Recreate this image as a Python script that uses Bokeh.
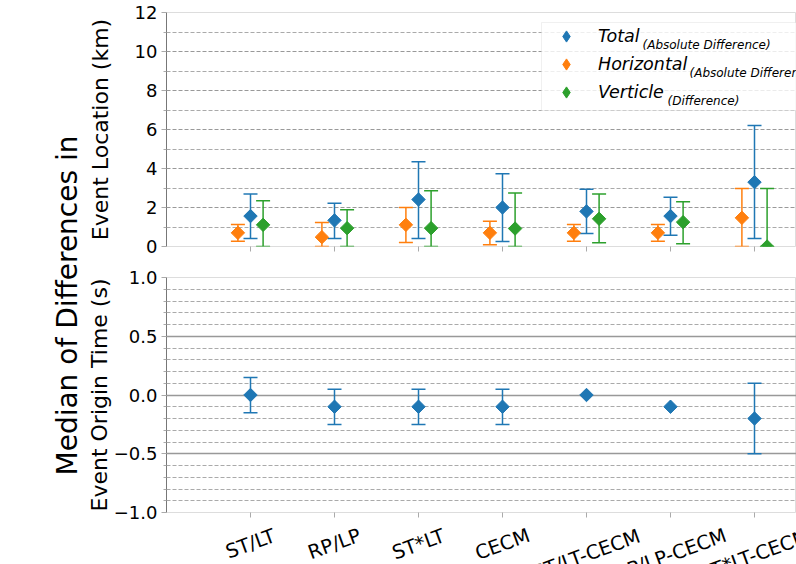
import numpy as np
from bokeh.plotting import figure
from bokeh.models import (Range1d, FixedTicker, ColumnDataSource, Label,
                          Legend, LegendItem, BoxAnnotation)
from bokeh.layouts import row, column
from bokeh.embed import file_html
from bokeh.resources import INLINE

# ---------------- data ----------------
categories = ["ST/LT", "RP/LP", "ST*LT", "CECM", "ST/LT-CECM", "RP/LP-CECM", "ST*LT-CECM"]

total_med = [1.56, 1.34, 2.41, 2.00, 1.80, 1.56, 3.30]
total_lo = [0.41, 0.41, 0.41, 0.26, 0.67, 0.58, 0.41]
total_hi = [2.69, 2.22, 4.35, 3.73, 2.93, 2.52, 6.20]

horiz_med = [0.70, 0.48, 1.11, 0.70, 0.70, 0.70, 1.47]
horiz_lo = [0.27, 0.00, 0.21, 0.09, 0.27, 0.27, 0.00]
horiz_hi = [1.13, 1.23, 2.00, 1.30, 1.13, 1.13, 2.98]

vert_med = [1.11, 0.94, 0.94, 0.92, 1.42, 1.25, 0.00]
vert_lo = [0.00, 0.00, 0.00, 0.00, 0.19, 0.14, 0.00]
vert_hi = [2.35, 1.88, 2.86, 2.74, 2.69, 2.30, 2.98]

time_med = [0.0, -0.1, -0.1, -0.1, 0.0, -0.1, -0.2]
time_lo = [-0.15, -0.25, -0.25, -0.25, 0.0, -0.1, -0.5]
time_hi = [0.15, 0.05, 0.05, 0.05, 0.0, -0.1, 0.1]

loc_ticks = [0, 2, 4, 6, 8, 10, 12]
loc_tick_labels = ["0", "2", "4", "6", "8", "10", "12"]
time_ticks = [-1.0, -0.5, 0.0, 0.5, 1.0]
time_tick_labels = ["\u22121.0", "\u22120.5", "0.0", "0.5", "1.0"]

legend_names = ["Total", "Horizontal", "Verticle"]
legend_subs = ["(Absolute Difference)", "(Absolute Difference)", "(Difference)"]

BLUE, ORANGE, GREEN = "#1f77b4", "#ff7f0e", "#2ca02c"
FONT = "DejaVu Sans"

xs = np.arange(len(categories))
LEFT_W = 83
MAIN_W = 796 - LEFT_W
BORDER_L = 83
FRAME_W = MAIN_W - BORDER_L
PX_PER_CAT = 84.0
x_end = -1 + FRAME_W / PX_PER_CAT
shared_x = Range1d(-1, x_end)

# approximate DejaVu Sans advance widths (em) for label-height estimation
CHAR_W = {"S": .635, "T": .611, "/": .337, "L": .557, "R": .695, "P": .603,
          "*": .5, "C": .698, "E": .632, "M": .863, "-": .361}


def base_fig(height, yr, mb_top, mb_bottom):
    p = figure(width=MAIN_W, height=height, x_range=shared_x, y_range=yr,
               output_backend="svg", toolbar_location=None,
               min_border_left=BORDER_L, min_border_right=0,
               min_border_top=mb_top, min_border_bottom=mb_bottom)
    p.outline_line_color = "#dddddd"
    p.outline_line_width = 1
    p.background_fill_color = "white"
    p.border_fill_color = "white"
    p.xgrid.visible = False
    # x axis: tick marks only (labels drawn rotated in the strip below)
    p.xaxis.ticker = FixedTicker(ticks=list(xs))
    p.xaxis.major_label_overrides = {int(i): "" for i in xs}
    p.xaxis.major_label_standoff = 0
    p.xaxis.axis_line_color = None
    p.xaxis.major_tick_line_color = "#aaaaaa"
    p.xaxis.major_tick_out = 5
    p.xaxis.major_tick_in = 0
    p.xaxis.minor_tick_line_color = None
    # y axis
    p.yaxis.axis_line_color = "#777777"
    p.yaxis.major_tick_line_color = "#aaaaaa"
    p.yaxis.minor_tick_line_color = "#aaaaaa"
    p.yaxis.major_tick_out = 5
    p.yaxis.major_tick_in = 0
    p.yaxis.minor_tick_out = 3
    p.yaxis.minor_tick_in = 0
    p.yaxis.major_label_text_font = FONT
    p.yaxis.major_label_text_font_size = "18px"
    p.yaxis.major_label_text_color = "black"
    p.yaxis.major_label_standoff = 4
    p.yaxis.axis_label_text_font = FONT
    p.yaxis.axis_label_text_font_size = "22px"
    p.yaxis.axis_label_text_font_style = "normal"
    p.yaxis.axis_label_text_color = "black"
    return p


def errorbars(p, x, med, lo, hi, color):
    src = ColumnDataSource(dict(x=x, med=med, lo=lo, hi=hi))
    keep = [i for i in range(len(x)) if hi[i] != lo[i]]
    cap = ColumnDataSource(dict(x=[x[i] for i in keep], lo=[lo[i] for i in keep],
                                hi=[hi[i] for i in keep]))
    p.segment(x0="x", y0="lo", x1="x", y1="hi", source=cap, line_color=color, line_width=1.5)
    p.scatter(x="x", y="lo", source=cap, marker="dash", size=14, line_color=color, line_width=1.5)
    p.scatter(x="x", y="hi", source=cap, marker="dash", size=14, line_color=color, line_width=1.5)
    # diamond drawn underneath (used for the legend swatch), covered by the rotated square
    leg = p.scatter(x="x", y="med", source=src, marker="diamond", size=12,
                    fill_color=color, line_color=color)
    p.scatter(x="x", y="med", source=src, marker="square", angle=np.pi / 4, size=9.5,
              fill_color=color, line_color=color)
    return leg


# ---------------- top: event location ----------------
top = base_fig(262, Range1d(0, 12), 12, 16)
top.yaxis.ticker = FixedTicker(ticks=loc_ticks, minor_ticks=list(range(1, 12, 2)))
top.yaxis.major_label_overrides = dict(zip(loc_ticks, loc_tick_labels))
top.yaxis.axis_label = "Event Location (km)"
top.yaxis.axis_label_standoff = 19
top.ygrid.grid_line_color = "#999999"
top.ygrid.grid_line_dash = "4 2"
top.ygrid.grid_line_width = 1
top.ygrid.minor_grid_line_color = "#aaaaaa"
top.ygrid.minor_grid_line_dash = "4 2"
top.ygrid.minor_grid_line_width = 1

# legend box (drawn above the grid, below the data)
top.add_layout(BoxAnnotation(left=375, right=720, bottom=136, top=224,
                             left_units="screen", right_units="screen",
                             bottom_units="screen", top_units="screen",
                             fill_color="white", fill_alpha=0.8,
                             line_color="#cccccc", line_width=1, level="underlay"))

off = 0.15
r_tot = errorbars(top, list(xs), total_med, total_lo, total_hi, BLUE)
r_hor = errorbars(top, list(xs - off), horiz_med, horiz_lo, horiz_hi, ORANGE)
r_ver = errorbars(top, list(xs + off), vert_med, vert_lo, vert_hi, GREEN)

legend = Legend(items=[LegendItem(label=legend_names[0], renderers=[r_tot]),
                       LegendItem(label=legend_names[1], renderers=[r_hor]),
                       LegendItem(label=legend_names[2], renderers=[r_ver])],
                location=(375, 140), orientation="vertical",
                label_text_font=FONT, label_text_font_style="italic",
                label_text_font_size="17.5px", label_text_color="black",
                glyph_width=50, glyph_height=28, label_height=28, label_width=100,
                label_standoff=7, padding=0, spacing=0, margin=0,
                border_line_color=None, background_fill_alpha=0)
top.add_layout(legend)

sub_x = [476, 523, 501]
sub_y = [202, 174, 146]
for sx, sy, txt in zip(sub_x, sub_y, legend_subs):
    top.add_layout(Label(x=sx, y=sy, x_units="screen", y_units="screen", text=txt,
                         text_font=FONT, text_font_style="italic", text_font_size="12px",
                         text_color="black", text_baseline="alphabetic", text_align="left",
                         level="overlay"))

# ---------------- bottom: origin time ----------------
BOT_BORDER_B = 11
bot = base_fig(15 + 235 + BOT_BORDER_B, Range1d(-1, 1), 15, BOT_BORDER_B)
bot.yaxis.ticker = FixedTicker(ticks=time_ticks,
                               minor_ticks=[round(v, 1) for v in np.arange(-1.0, 1.01, 0.1)])
bot.yaxis.major_label_overrides = dict(zip(time_ticks, time_tick_labels))
bot.yaxis.axis_label = "Event Origin Time (s)"
bot.yaxis.axis_label_standoff = -1
bot.ygrid.grid_line_color = "#999999"
bot.ygrid.grid_line_width = 1.5
bot.ygrid.minor_grid_line_color = "#aaaaaa"
bot.ygrid.minor_grid_line_dash = "4 2"
bot.ygrid.minor_grid_line_width = 1

errorbars(bot, list(xs), time_med, time_lo, time_hi, BLUE)

# ---------------- strip with rotated category labels ----------------
STRIP_H = 564 - 262 - (15 + 235 + BOT_BORDER_B)
xlab = figure(width=MAIN_W, height=STRIP_H, x_range=shared_x, y_range=Range1d(0, 1),
              output_backend="svg", toolbar_location=None,
              x_axis_location=None, y_axis_location=None,
              min_border_left=BORDER_L, min_border_right=0, min_border_top=0,
              min_border_bottom=0)
xlab.outline_line_color = None
xlab.grid.visible = False
fs = 19.5
ang = np.deg2rad(20)
for xi, c in zip(xs, categories):
    w = sum(CHAR_W.get(ch, 0.6) for ch in c) * fs
    # centre of rotated box sits (tick + pad) below the axis, as in matplotlib
    below_axis = 13 + (w * np.sin(ang) + fs * np.cos(ang)) / 2
    y_screen = STRIP_H - (below_axis - BOT_BORDER_B)
    xlab.add_layout(Label(x=float(xi), y=y_screen, y_units="screen", text=c, angle=ang,
                          text_align="center", text_baseline="middle",
                          text_font=FONT, text_font_size=f"{fs}px", text_color="black"))

# ---------------- shared label ----------------
lab = figure(width=LEFT_W, height=564, output_backend="svg", toolbar_location=None,
             x_axis_location=None, y_axis_location=None, min_border=0,
             x_range=Range1d(0, 1), y_range=Range1d(0, 1))
lab.outline_line_color = None
lab.grid.visible = False
lab.add_layout(Label(x=66.5, y=259, x_units="screen", y_units="screen",
                     text="Median of Differences in", angle=np.pi / 2,
                     text_align="center", text_baseline="middle",
                     text_font=FONT, text_font_size="28px", text_color="black"))

layout = row(lab, column(top, bot, xlab))
open("out.html", "w").write(file_html(layout, INLINE))
